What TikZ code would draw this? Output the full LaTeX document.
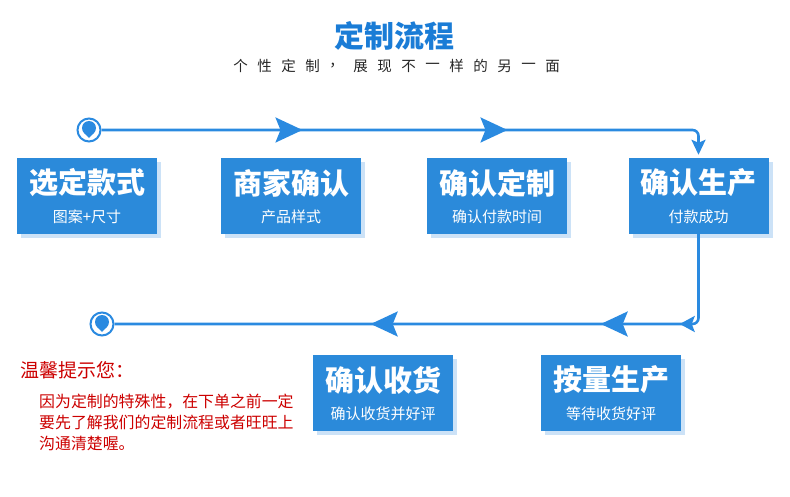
\documentclass[tikz,border=0pt]{standalone}
\usepackage{fontspec}
\newfontfamily\cjk{Noto Sans CJK SC}
\usetikzlibrary{arrows.meta,decorations.markings}
\definecolor{boxblue}{HTML}{2B8ADA}
\definecolor{shadowblue}{HTML}{CCE2F7}
\definecolor{lineblue}{HTML}{2A8AE0}
\definecolor{titleblue}{HTML}{1A7CD6}
\definecolor{warnred}{HTML}{CC0000}
\tikzset{
  stepbox/.style={fill=boxblue, minimum width=140pt, minimum height=76pt, inner sep=0pt},
  boxshadow/.style={fill=shadowblue},
  boxtitle/.style={text=white, font=\cjk\bfseries\fontsize{29}{31}\selectfont, inner sep=0pt},
  boxsub/.style={text=white, font=\cjk\fontsize{15}{16}\selectfont, inner sep=0pt},
  ring/.style={circle, draw=lineblue, line width=2pt, fill=white, minimum size=23pt, inner sep=0pt},
  flow/.style={draw=lineblue, line width=2.6pt, rounded corners=6pt},
}
\newcommand{\stepnode}[5]{%
  \fill[boxshadow] (#2+4-70,#3+4-38) rectangle (#2+4+70,#3+4+38);
  \node[stepbox] (#1) at (#2,#3) {};
  \node[boxtitle] (#1t) at (#2,#3-13) {#4};
  \node[boxsub] (#1s) at (#2,#3+21) {#5};
}
\newcommand{\pin}[2]{%
  \fill[lineblue] (#1,#2) circle (7pt);
  \fill[lineblue] (#1-5,#2+4.8) -- (#1+5,#2+4.8) -- (#1,#2+10) -- cycle;
}
\begin{document}
\begin{tikzpicture}[x=1pt,y=-1pt]
\useasboundingbox (0,0) rectangle (790,497);
% title
\node[text=titleblue, font=\cjk\bfseries\fontsize{30}{32}\selectfont, inner sep=0pt] (title) at (394,36) {定制流程};
\foreach \c [count=\i from 0] in {个,性,定,制,，,展,现,不,一,样,的,另,一,面}
  \node[font=\cjk\fontsize{14.5}{16}\selectfont, inner sep=0pt, text=black!85] at (240.5+24*\i,66) {\c};
% boxes
\stepnode{b1}{87}{196}{选定款式}{图案+尺寸}
\stepnode{b2}{291}{196}{商家确认}{产品样式}
\stepnode{b3}{497}{196}{确认定制}{确认付款时间}
\stepnode{b4}{698.5}{196}{确认生产}{付款成功}
\stepnode{b5}{383}{393}{确认收货}{确认收货并好评}
\stepnode{b6}{611}{393}{按量生产}{等待收货好评}
% circles
\node[ring] (c1) at (89,130) {};
\node[ring] (c2) at (102,324) {};
% top flow
\draw[flow, postaction={decorate}, decoration={markings,
   mark=at position 201pt with {\arrow{Stealth[length=27pt,width=25pt,inset=5pt]}},
   mark=at position 406pt with {\arrow{Stealth[length=27pt,width=25pt,inset=5pt]}}},
   -{Stealth[length=15pt,width=14pt,inset=3pt]}, shorten >=3pt]
   (c1.east) -| (b4.north);
% bottom flow
\draw[flow, postaction={decorate}, decoration={markings,
   mark=at position 106pt with {\arrow{Stealth[length=15pt,width=16pt,inset=3pt]}},
   mark=at position 185pt with {\arrow{Stealth[length=27pt,width=25pt,inset=5pt]}},
   mark=at position 415pt with {\arrow{Stealth[length=27pt,width=25pt,inset=5pt]}}}]
   (b4.south) |- (c2.east);
\pin{89}{128}
\pin{102}{322}
% note
\node[anchor=west, text=warnred, font=\cjk\fontsize{19}{21}\selectfont, inner sep=0pt] (note) at (20,370) {温馨提示您：};
\node[anchor=north west, align=left, text=warnred, font=\cjk\fontsize{15.9}{20.7}\selectfont, inner sep=0pt] (notebody) at (39,394)
  {因为定制的特殊性，在下单之前一定\\要先了解我们的定制流程或者旺旺上\\沟通清楚喔。};
\end{tikzpicture}
\end{document}
